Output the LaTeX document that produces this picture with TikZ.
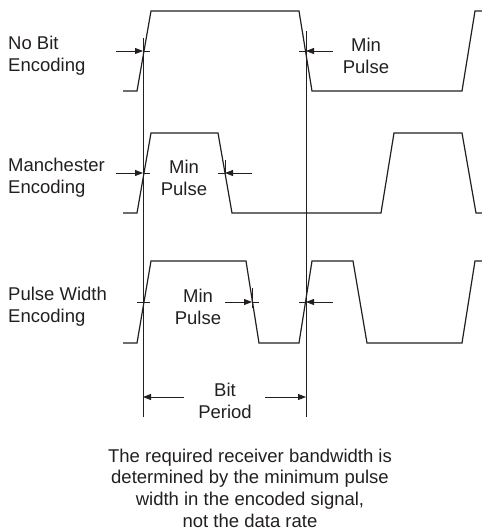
\documentclass[tikz,border=0pt]{standalone}
\usepackage{fontspec}
\setmainfont{Liberation Sans}
\usetikzlibrary{arrows.meta,positioning}
\definecolor{ink}{RGB}{35,31,32}

\begin{document}
\begin{tikzpicture}[x=1pt,y=-1pt,
  wave/.style={draw=ink, line width=1.2pt},
  guide/.style={draw=ink, line width=0.7pt},
  dim/.style={-{Triangle[length=8pt,width=6pt]}, draw=ink, line width=0.8pt},
  tick/.style={draw=ink, line width=0.8pt},
  tag/.style={font=\fontsize{18.5}{21.7}\selectfont, text=ink, inner sep=0pt, align=left, anchor=west},
  mintag/.style={font=\fontsize{18.5}{21.7}\selectfont, text=ink, inner sep=0pt, align=center}
]
\useasboundingbox (0,0) rectangle (482,531);
% waveforms
\draw[wave] (123,91) -- (137,91) -- (151,11) -- (299,11) -- (312,91) -- (462,91) -- (475,11) -- (482,11);
\draw[wave] (123,213) -- (137,213) -- (151,133) -- (218,133) -- (232,213) -- (381,213) -- (394,133) -- (462,133) -- (476,213) -- (482,213);
\draw[wave] (123,343) -- (137,343) -- (151,261) -- (246,261) -- (259,343) -- (299,343) -- (312,261) -- (353,261) -- (367,343) -- (462,343) -- (475,261) -- (482,261);
% bit boundaries
\draw[guide] (143,38) -- (143,417);
\draw[guide] (306,31) -- (306,417);
\draw[guide] (225,160) -- (225,178);
\draw[guide] (252,288) -- (252,308);
% edge crossings
\coordinate (eA1) at (143,51);
\coordinate (eA2) at (306,51);
\coordinate (eB1) at (143,173);
\coordinate (eB2) at (225,173);
\coordinate (eC1) at (143,302);
\coordinate (eC2) at (252,302);
\coordinate (eC3) at (306,302);
\coordinate (pL) at (143,397);
\coordinate (pR) at (306,397);
% labels
\node[tag] (nobit) at (8,56) {No Bit\\Encoding};
\node[tag] (manch) at (8,178) {Manchester\\Encoding};
\node[tag] (pwidth) at (8,307) {Pulse Width\\Encoding};
\node[mintag] (minA) at (366,56) {Min\\Pulse};
\node[mintag] (minB) at (184,178) {Min\\Pulse};
\node[mintag] (minC) at (198,307) {Min\\Pulse};
\node[mintag] (bitper) at (225,401) {Bit\\Period};
\node[mintag] (note) at (250,488)
  {The required receiver bandwidth is\\determined by the minimum pulse\\width in the encoded signal,\\not the data rate};
% min pulse markers
\draw[dim] ([xshift=-27pt]eA1) -- (eA1);
\draw[tick] (eA1) -- ([xshift=7pt]eA1);
\draw[dim] ([xshift=27pt]eA2) -- (eA2);
\draw[tick] (eA2) -- ([xshift=-7pt]eA2);
\draw[dim] ([xshift=-27pt]eB1) -- (eB1);
\draw[tick] (eB1) -- ([xshift=7pt]eB1);
\draw[dim] ([xshift=27pt]eB2) -- (eB2);
\draw[tick] (eB2) -- ([xshift=-7pt]eB2);
\draw[tick] ([xshift=-6pt]eC1) -- ([xshift=7pt]eC1);
\draw[dim] ([xshift=-27pt]eC2) -- (eC2);
\draw[tick] (eC2) -- ([xshift=7pt]eC2);
\draw[dim] ([xshift=27pt]eC3) -- (eC3);
\draw[tick] (eC3) -- ([xshift=-7pt]eC3);
% bit period
\draw[dim] ([xshift=41pt]pL) -- (pL);
\draw[dim] ([xshift=-41pt]pR) -- (pR);
\end{tikzpicture}
\end{document}
